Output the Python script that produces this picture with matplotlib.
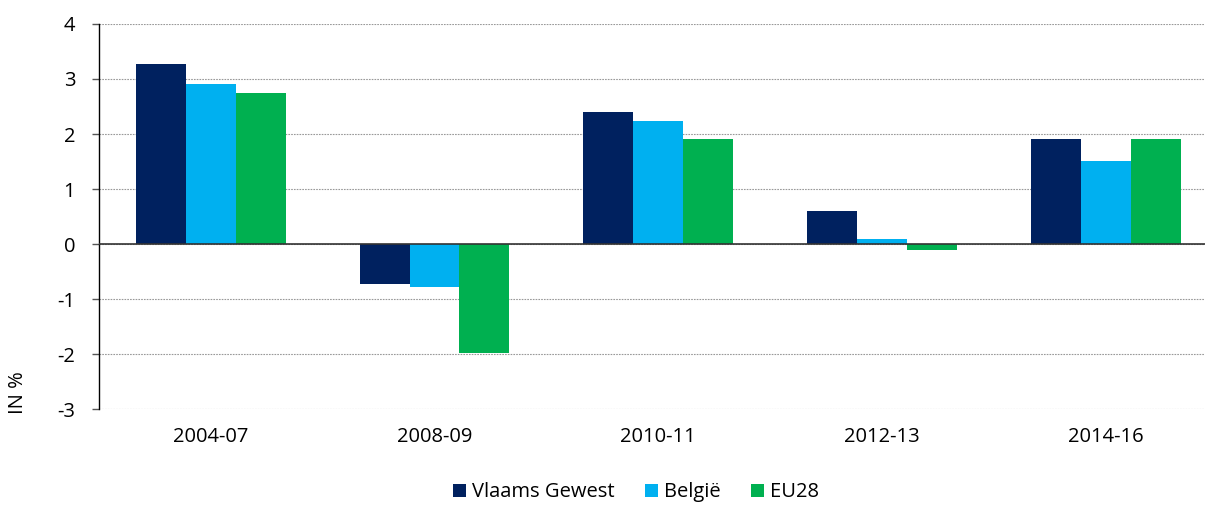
import numpy as np
import matplotlib
matplotlib.use("Agg")
import matplotlib.pyplot as plt

plt.rcParams['font.family'] = ['Open Sans', 'DejaVu Sans']
plt.rcParams['axes.unicode_minus'] = False

periods = ["2004-07", "2008-09", "2010-11", "2012-13", "2014-16"]
vlaams = [3.27, -0.73, 2.40, 0.60, 1.91]
belgie = [2.91, -0.78, 2.24, 0.09, 1.51]
eu28 = [2.75, -1.98, 1.91, -0.11, 1.91]

series = [("Vlaams Gewest", vlaams, "#00215f"),
          ("België", belgie, "#00b0f0"),
          ("EU28", eu28, "#00b050")]

fig = plt.figure(figsize=(12.05, 5.05), dpi=100)
ax = fig.add_axes([0.082, 0.19, 0.9286, 0.7625])

x = np.arange(len(periods))
w = 0.223
for i, (name, vals, col) in enumerate(series):
    ax.bar(x + (i - 1) * w, vals, w, color=col, label=name, zorder=3)

ax.set_xlim(-0.5, len(periods) - 0.5)
ax.set_ylim(-3, 4)
ax.set_yticks(range(-3, 5))
ax.set_xticks(x)
ax.set_xticklabels(periods, fontsize=14.5)
ax.tick_params(axis='x', length=0, pad=13)
ax.tick_params(axis='y', labelsize=14.5, length=5, width=1, color='#555555', pad=12)

ax.grid(axis='y', linestyle=(0, (1.5, 1)), color='#999999', linewidth=0.8, zorder=0)
ax.axhline(0, color='#333333', linewidth=1.2, zorder=4)

for s in ['top', 'right', 'bottom']:
    ax.spines[s].set_visible(False)
ax.spines['left'].set_color('black')
ax.spines['left'].set_linewidth(1)

ax.set_ylabel("IN %", fontsize=14.5)
ax.yaxis.set_label_coords(-0.063, 0.043)

fig.legend(loc='center', bbox_to_anchor=(0.528, 0.025), ncol=3, frameon=False,
           fontsize=14.5, handlelength=0.65, handleheight=0.65, handletextpad=0.3,
           columnspacing=1.5)

fig.savefig("out.png", dpi=100)
